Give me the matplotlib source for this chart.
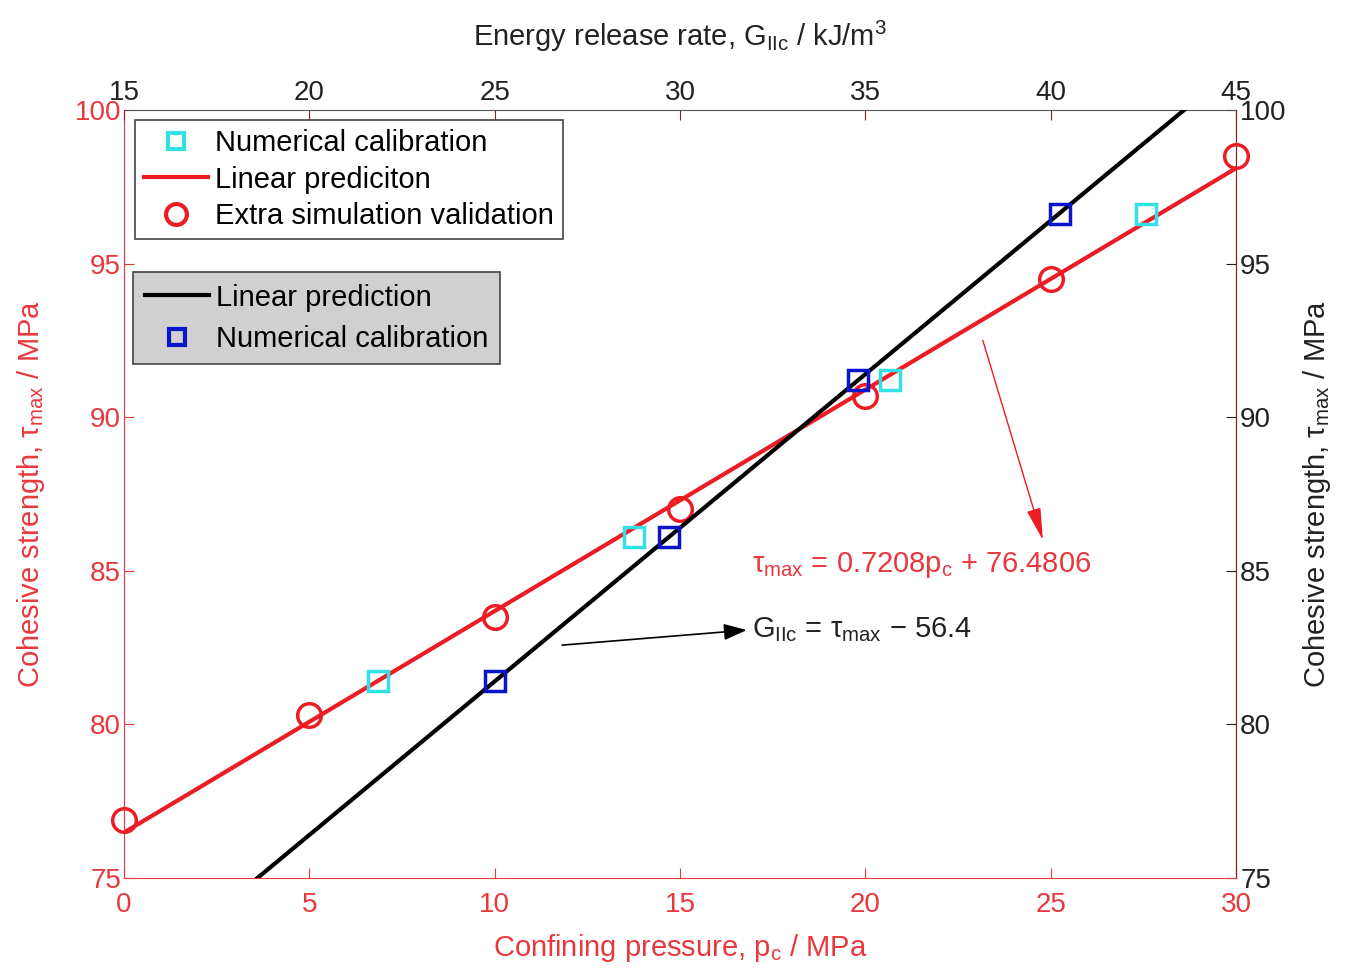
import numpy as np
import matplotlib.pyplot as plt
from matplotlib.lines import Line2D

plt.rcParams['font.family'] = ['Liberation Sans', 'DejaVu Sans']
plt.rcParams['mathtext.fontset'] = 'custom'
plt.rcParams['mathtext.rm'] = 'Liberation Sans'
plt.rcParams['mathtext.it'] = 'Liberation Sans'
plt.rcParams['mathtext.sf'] = 'Liberation Sans'

RED = '#ec1c24'
RED_TXT = '#e8383d'
CYAN = '#33e0e6'
BLUE = '#0a14c8'

# extra simulation validation (confining pressure vs cohesive strength)
pc_sim = [0, 5, 10, 15, 20, 25, 30]
tau_sim = [76.9, 80.3, 83.5, 87.0, 90.7, 94.5, 98.5]

# numerical calibration, plotted against confining pressure
pc_cal = [6.85, 13.76, 20.66, 27.57]
tau_cal = [81.4, 86.1, 91.2, 96.6]

# numerical calibration, plotted against energy release rate
g_cal = [25.0, 29.7, 34.8, 40.25]
tau_gcal = [81.4, 86.1, 91.2, 96.6]

# fitted relations
SLOPE, INTERCEPT = 0.7208, 76.4806
G_OFFSET = 56.4

PC_LIM = (0, 30)
G_LIM = (15, 45)
TAU_LIM = (75, 100)
FS = 20
FS_LEG = 21

fig = plt.figure(figsize=(13.58, 9.77), dpi=100)
ax = fig.add_axes([124 / 1358, 1 - 878 / 977, (1236 - 124) / 1358, (878 - 110) / 977])
ax2 = ax.twiny()

# red fit: tau = a*pc + b
pc_line = np.array(PC_LIM, dtype=float)
tau_line = SLOPE * pc_line + INTERCEPT
ax.plot(pc_line, tau_line, color=RED, lw=3, zorder=2)
ax.plot(pc_sim, tau_sim, 'o', ms=17, mfc='none', mec=RED, mew=2.5, zorder=3, clip_on=False)
ax.plot(pc_cal, tau_cal, 's', ms=14, mfc='none', mec=CYAN, mew=2.5, zorder=3, clip_on=False)

# black fit: G = tau - 56.4
tau_black = np.array(TAU_LIM, dtype=float)
g_black = tau_black - G_OFFSET
ax2.plot(g_black, tau_black, color='black', lw=3, zorder=2)
ax2.plot(g_cal, tau_gcal, 's', ms=14, mfc='none', mec=BLUE, mew=2.5, zorder=3, clip_on=False)

ax.set_xlim(*PC_LIM)
ax.set_ylim(*TAU_LIM)
ax2.set_xlim(*G_LIM)

ax.set_xticks(range(0, 31, 5))
ax.set_yticks(range(75, 101, 5))
ax2.set_xticks(range(15, 46, 5))

ax.tick_params(axis='x', direction='in', length=7, colors=RED_TXT, labelsize=FS, pad=10)
ax.tick_params(axis='y', direction='in', length=7, colors=RED_TXT, labelsize=FS, pad=2)
ax2.tick_params(axis='x', direction='in', length=7, color='#8a2020', labelcolor='#222222',
                labelsize=FS, pad=3)

for name in ('left', 'bottom'):
    ax.spines[name].set_color(RED_TXT)
ax.spines['right'].set_color('#8a2020')
ax.spines['top'].set_color('#555555')
for name in ax2.spines:
    ax2.spines[name].set_visible(False)

ax_r = ax.secondary_yaxis('right')
ax_r.set_yticks(range(75, 101, 5))
ax_r.tick_params(direction='in', length=7, colors='#222222', labelsize=FS, pad=3)
ax_r.spines['right'].set_color('#8a2020')

ax.set_xlabel(r'Confining pressure, p$_{\rm c}$ / MPa', color=RED_TXT, fontsize=FS_LEG, labelpad=10)
ax.set_ylabel(r'Cohesive strength, $\tau_{\rm max}$ / MPa', color=RED_TXT, fontsize=FS_LEG, labelpad=20)
ax_r.set_ylabel(r'Cohesive strength, $\tau_{\rm max}$ / MPa', color='#222222', fontsize=FS_LEG, labelpad=10)
ax2.set_xlabel(r'Energy release rate, G$_{\rm IIc}$ / kJ/m$^3$', color='#222222', fontsize=FS_LEG, labelpad=24)

# equation labels with arrows
ax.annotate('', xy=(24.79, 86.0), xytext=(23.17, 92.5),
            arrowprops=dict(arrowstyle='-|>,head_length=1.0,head_width=0.22', color=RED, lw=1,
                            mutation_scale=20, shrinkA=0, shrinkB=0))
ax.text(16.94, 85.2, r'$\tau_{\rm max}$ = 0.7208p$_{\rm c}$ + 76.4806', color=RED_TXT,
        fontsize=FS_LEG, ha='left', va='center')
ax.annotate('', xy=(16.8, 83.07), xytext=(11.82, 82.58),
            arrowprops=dict(arrowstyle='-|>,head_length=0.7,head_width=0.25', color='black', lw=1.2,
                            mutation_scale=20, shrinkA=0, shrinkB=0))
ax.text(16.94, 83.1, r'G$_{\rm IIc}$ = $\tau_{\rm max}$ $-$ 56.4', color='#222222',
        fontsize=FS_LEG, ha='left', va='center')

handles1 = [
    Line2D([], [], ls='none', marker='s', ms=12, mfc='none', mec=CYAN, mew=3),
    Line2D([], [], color=RED, lw=3),
    Line2D([], [], ls='none', marker='o', ms=15, mfc='none', mec=RED, mew=3),
]
leg1 = ax2.legend(handles1, ['Numerical calibration', 'Linear prediciton', 'Extra simulation validation'],
                  loc='upper left', bbox_to_anchor=(135 / 1358, 1 - 120 / 977),
                  bbox_transform=fig.transFigure, fontsize=FS_LEG, fancybox=False, framealpha=1,
                  edgecolor='#444444', handlelength=2.2, handletextpad=0.25, labelspacing=0.3,
                  borderpad=0.3, borderaxespad=0)
leg1.get_frame().set_linewidth(1.2)
leg1.set_zorder(5)
ax2.add_artist(leg1)

handles2 = [
    Line2D([], [], color='black', lw=3),
    Line2D([], [], ls='none', marker='s', ms=12, mfc='none', mec=BLUE, mew=3),
]
leg2 = ax2.legend(handles2, ['Linear prediction', 'Numerical calibration'],
                  loc='upper left', bbox_to_anchor=(133 / 1358, 1 - 272 / 977),
                  bbox_transform=fig.transFigure, fontsize=FS_LEG, fancybox=False, framealpha=1,
                  facecolor='#d0d0d0', edgecolor='#444444', handlelength=2.2, handletextpad=0.25,
                  labelspacing=0.45, borderpad=0.4, borderaxespad=0)
leg2.get_frame().set_linewidth(1.2)
leg2.set_zorder(5)

fig.savefig('out.png', dpi=100)
